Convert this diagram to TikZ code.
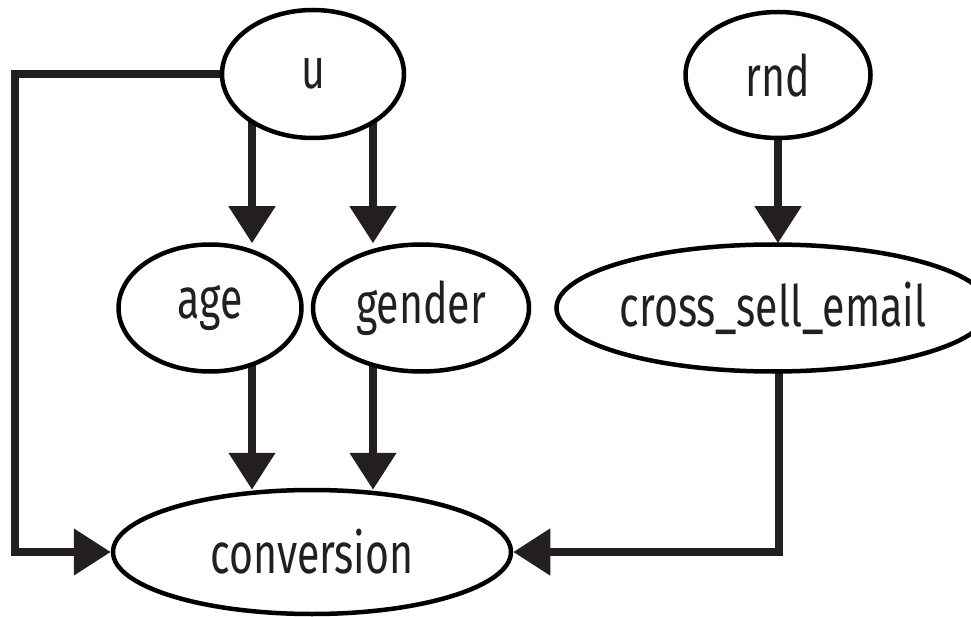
\documentclass[tikz,border=0pt]{standalone}
\usepackage{fontspec}
\setmainfont{Fira Sans}[FakeStretch=0.72]
\usetikzlibrary{shapes.geometric,arrows.meta,calc,backgrounds}
\definecolor{ink}{HTML}{231F20}
\tikzset{
  var/.style={ellipse, draw=black, line width=4.5pt, fill=white, inner sep=0pt,
    font=\fontsize{57}{62}\selectfont, text=ink},
  arr/.style={draw=ink, line width=8pt, -{Triangle[length=37pt,width=45pt]}}
}
\begin{document}
\begin{tikzpicture}[x=1pt,y=-1pt]
\useasboundingbox (0,0) rectangle (971,617);
\node[var, minimum width=182pt, minimum height=128pt] (u) at (313,74) {u};
\node[var, minimum width=185pt, minimum height=126pt] (rnd) at (778,75) {rnd};
\node[var, minimum width=183pt, minimum height=127pt] (age) at (210,308) {age};
\node[var, minimum width=216pt, minimum height=127pt] (gender) at (421,308) {gender};
\node[var, minimum width=390pt, minimum height=127pt] (cse) at (773,308) {cross\_sell\_email};
\node[var, minimum width=398pt, minimum height=124pt] (conversion) at (312,552) {conversion};
\coordinate (lc) at (15,0);
\begin{pgfonlayer}{background}
\draw[arr] ($(u.center)+(-61,0)$) -- ($(age.north)+(42,1)$);
\draw[arr] ($(u.center)+(60,0)$) -- ($(gender.north)+(-48,1)$);
\draw[arr] (rnd.center) -- ($(rnd.center |- cse.north)+(0,1)$);
\draw[arr] ($(age.center)+(42,0)$) -- ($(conversion.north)+(-60,2)$);
\draw[arr] ($(gender.center)+(-48,0)$) -- ($(conversion.north)+(61,2)$);
\draw[arr] (u.center) -- (u.center -| lc) |- (conversion.west);
\draw[arr] ($(cse.center)+(6,0)$) |- (conversion.east);
\end{pgfonlayer}
\end{tikzpicture}
\end{document}
